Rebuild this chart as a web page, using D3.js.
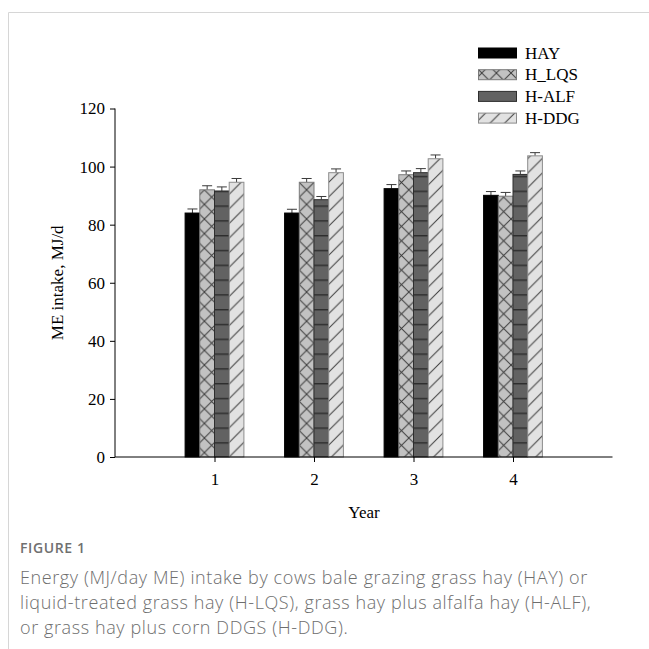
<!DOCTYPE html>
<html>
<head>
<meta charset="utf-8">
<script src="https://cdn.jsdelivr.net/npm/d3@7"></script>
<style>
  html, body { margin: 0; padding: 0; background: #fff; }
  svg { display: block; }
</style>
</head>
<body>
<svg id="chart" width="649" height="649"></svg>
<script>
// ---- data ----
const years = [1, 2, 3, 4];
const seriesNames = ["HAY", "H_LQS", "H-ALF", "H-DDG"];
const hayValues = [84.0, 84.0, 92.4, 90.1];
const lqsValues = [92.0, 94.6, 97.2, 89.8];
const alfValues = [91.6, 88.6, 97.9, 97.3];
const ddgValues = [94.6, 97.9, 102.7, 103.7];
const hayErr = [1.4, 1.3, 1.4, 1.3];
const lqsErr = [1.4, 1.3, 1.3, 1.3];
const alfErr = [1.4, 1.1, 1.4, 1.2];
const ddgErr = [1.3, 1.3, 1.3, 1.1];
const yTicks = [0, 20, 40, 60, 80, 100, 120];
const captionTitle = "FIGURE 1";
const captionLines = [
  "Energy (MJ/day ME) intake by cows bale grazing grass hay (HAY) or",
  "liquid-treated grass hay (H-LQS), grass hay plus alfalfa hay (H-ALF),",
  "or grass hay plus corn DDGS (H-DDG)."
];

const series = [
  { name: seriesNames[0], values: hayValues, err: hayErr, fill: "#000000", stroke: "#000000" },
  { name: seriesNames[1], values: lqsValues, err: lqsErr, fill: "url(#pLQS)", stroke: "#7a7a7a" },
  { name: seriesNames[2], values: alfValues, err: alfErr, fill: "url(#pALF)", stroke: "#2e2e2e" },
  { name: seriesNames[3], values: ddgValues, err: ddgErr, fill: "url(#pDDG)", stroke: "#8c8c8c" }
];

const svg = d3.select("#chart");

// card border
svg.append("line").attr("x1", 8.5).attr("x2", 649).attr("y1", 12.5).attr("y2", 12.5)
  .attr("stroke", "#d6d6d6").attr("stroke-width", 1);
svg.append("line").attr("x1", 8.5).attr("x2", 8.5).attr("y1", 12.5).attr("y2", 649)
  .attr("stroke", "#d6d6d6").attr("stroke-width", 1);

// patterns
const defs = svg.append("defs");
const p1 = defs.append("pattern").attr("id", "pLQS").attr("patternUnits", "userSpaceOnUse")
  .attr("width", 14.6).attr("height", 14.6);
p1.append("rect").attr("width", 14.6).attr("height", 14.6).attr("fill", "#c2c2c2");
p1.append("path").attr("d", "M0,0L14.6,14.6M14.6,0L0,14.6").attr("stroke", "#3c3c3c").attr("stroke-width", 1);

const p2 = defs.append("pattern").attr("id", "pALF").attr("patternUnits", "userSpaceOnUse")
  .attr("width", 20).attr("height", 14.8).attr("y", 457);
p2.append("rect").attr("width", 20).attr("height", 14.8).attr("fill", "#626262");
p2.append("path").attr("d", "M0,0.7L20,0.7").attr("stroke", "#2e2e2e").attr("stroke-width", 1.5);

const p3 = defs.append("pattern").attr("id", "pDDG").attr("patternUnits", "userSpaceOnUse")
  .attr("width", 14.6).attr("height", 14.6);
p3.append("rect").attr("width", 14.6).attr("height", 14.6).attr("fill", "#e2e2e2");
p3.append("path").attr("d", "M0,14.6L14.6,0M-3,3L3,-3M11.6,17.6L17.6,11.6").attr("stroke", "#3c3c3c").attr("stroke-width", 1);

// scales
const x = d3.scaleLinear().domain([0, 5]).range([115, 612.5]);
const y = d3.scaleLinear().domain([0, 120]).range([457, 108.5]);
const barW = 14.7;

// bars
series.forEach((s, si) => {
  const g = svg.append("g");
  years.forEach((yr, i) => {
    const x0 = x(yr) - 2 * barW + si * barW;
    g.append("line").attr("x1", x0 + barW / 2).attr("x2", x0 + barW / 2)
      .attr("y1", y(s.values[i])).attr("y2", y(s.values[i] + s.err[i]))
      .attr("stroke", "#3a3a3a").attr("stroke-width", 1);
    g.append("line").attr("x1", x0 + barW / 2 - 5).attr("x2", x0 + barW / 2 + 5)
      .attr("y1", y(s.values[i] + s.err[i])).attr("y2", y(s.values[i] + s.err[i]))
      .attr("stroke", "#3a3a3a").attr("stroke-width", 1);
    g.append("rect").attr("x", x0).attr("width", barW)
      .attr("y", y(s.values[i])).attr("height", y(0) - y(s.values[i]))
      .attr("fill", s.fill).attr("stroke", s.stroke).attr("stroke-width", 1);
  });
});

// axes
const font = "'Liberation Serif', 'Times New Roman', serif";
const yAxis = d3.axisLeft(y).tickValues(yTicks).tickSize(5).tickPadding(5);
const gy = svg.append("g").attr("transform", "translate(115,0)").call(yAxis);
gy.select(".domain").attr("d", `M0,${y(120)}V${y(0)}`);
gy.selectAll("text").attr("font-family", font).attr("font-size", 17).attr("fill", "#000");

const xAxis = d3.axisBottom(x).tickValues(years).tickFormat(d3.format("d")).tickSize(5).tickPadding(11);
const gx = svg.append("g").attr("transform", `translate(0,${y(0)})`).call(xAxis);
gx.select(".domain").attr("d", `M${x(0)},0H${x(5)}`);
gx.selectAll("text").attr("font-family", font).attr("font-size", 17).attr("fill", "#000");

svg.append("text").attr("transform", `translate(63,${(y(0) + y(120)) / 2}) rotate(-90)`)
  .attr("text-anchor", "middle").attr("font-family", font).attr("font-size", 17)
  .text("ME intake, MJ/d");
svg.append("text").attr("x", 364).attr("y", 518).attr("text-anchor", "middle")
  .attr("font-family", font).attr("font-size", 17).text("Year");

// legend
const lg = svg.append("g");
series.forEach((s, i) => {
  const ly = 48 + i * 21.7;
  lg.append("rect").attr("x", 478.5).attr("y", ly).attr("width", 38).attr("height", 10)
    .attr("fill", s.fill).attr("stroke", s.stroke).attr("stroke-width", 1);
  lg.append("text").attr("x", 525).attr("y", ly + 10.5).attr("font-family", font)
    .attr("font-size", 17).text(s.name);
});

// caption
const capFont = "'Open Sans', 'Noto Sans', sans-serif";
svg.append("text").attr("x", 20).attr("y", 553).attr("font-family", capFont)
  .attr("font-size", 14).attr("font-weight", 600).attr("letter-spacing", 0.6)
  .attr("fill", "#707070").text(captionTitle);
captionLines.forEach((t, i) => {
  svg.append("text").attr("x", 20).attr("y", 584 + i * 25).attr("font-family", capFont)
    .attr("font-size", 18).attr("font-weight", 300).attr("letter-spacing", 0.6)
    .attr("fill", "#6e6e6e").text(t);
});
</script>
</body>
</html>
